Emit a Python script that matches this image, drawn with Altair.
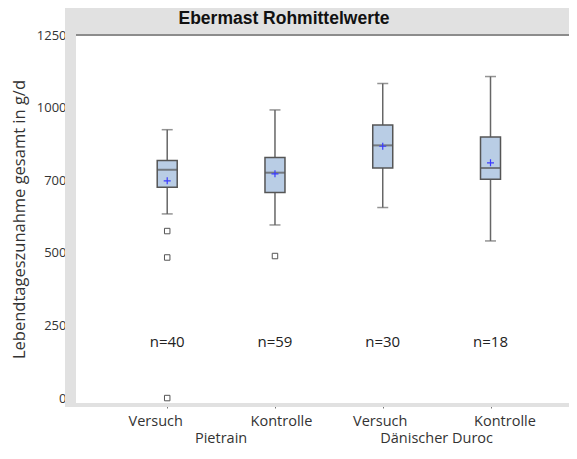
import altair as alt
import pandas as pd

# ---- data ----
groups = ["Pietrain", "Pietrain", "Dänischer Duroc", "Dänischer Duroc"]
treatments = ["Versuch", "Kontrolle", "Versuch", "Kontrolle"]
slot = [1, 2, 3, 4]
whisker_low = [634, 596, 656, 541]
q1 = [726, 708, 792, 753]
median = [786, 776, 870, 792]
q3 = [818, 828, 940, 899]
whisker_high = [924, 992, 1083, 1107]
means = [748, 772, 867, 810]
counts = [40, 59, 30, 18]
outlier_slot = [1, 1, 1, 2]
outlier_value = [575, 484, 0, 489]
y_ticks = [0, 250, 500, 750, 1000, 1250]
y_tick_labels = ["0", "250", "500", "700", "1000", "1250"]
title_text = "Ebermast Rohmittelwerte"
y_title = "Lebendtageszunahme gesamt in g/d"

box = pd.DataFrame({
    "slot": slot, "group": groups, "treatment": treatments,
    "lo": whisker_low, "q1": q1, "med": median, "q3": q3,
    "hi": whisker_high, "mean": means, "n": counts,
})
outl = pd.DataFrame({"slot": outlier_slot, "value": outlier_value})
grp = box.groupby("group", sort=False)["slot"].mean().reset_index()
one = pd.DataFrame({"t": [title_text]})

W, H = 493, 368
TOP, BOTTOM = 27, 43
FONT = "Open Sans"

# label shifts seen in the reference (labels are not exactly centred under ticks)
label_shift = [-12, 6, -3, 14]

x_label_expr = "[" + ",".join("'%s'" % t for t in treatments) + "][datum.value - 1]"
y_label_expr = ("[" + ",".join("'%s'" % t for t in y_tick_labels) + "][indexof(["
                + ",".join(str(v) for v in y_ticks) + "], datum.value)]")

x_scale = alt.Scale(domain=[0.2, 4.682], nice=False, zero=False)
y_scale = alt.Scale(domain=[-17, 1250], nice=False, zero=False)

x_axis = alt.Axis(values=slot, labelExpr=x_label_expr, grid=False, tickSize=5,
                  labelPadding=6, domainColor="#8c8c8c", domainWidth=2,
                  tickColor="#777", labelFont=FONT, labelFontSize=14.5,
                  labelColor="#333", title=None, labelAngle=0,
                  labelOffset={"condition": [
                      {"test": "datum.value == %d" % s, "value": d}
                      for s, d in zip(slot, label_shift)], "value": 0})
y_axis = alt.Axis(values=y_ticks, labelExpr=y_label_expr, grid=False, tickSize=6,
                  labelPadding=4, domainColor="#8c8c8c", domainWidth=2,
                  tickColor="#777", labelFont=FONT, labelFontSize=13,
                  labelColor="#333", title=y_title, titleFont=FONT,
                  titleFontSize=16.5, titleFontWeight="normal", titleColor="#333",
                  titleX=-57, titleY=H / 2, titleAngle=270,
                  titleBaseline="middle", titleAlign="center")

X = alt.X("slot:Q", scale=x_scale, axis=x_axis)

bg = alt.Chart(one).mark_rect(color="#e1e1e1").encode(
    x=alt.value(-11), x2=alt.value(W), y=alt.value(-TOP), y2=alt.value(H + 4))
plot_bg = alt.Chart(one).mark_rect(color="white").encode(
    x=alt.value(0), x2=alt.value(W), y=alt.value(0), y2=alt.value(H))
top_line = alt.Chart(one).mark_rule(color="#8c8c8c", strokeWidth=2).encode(
    x=alt.value(0), x2=alt.value(W), y=alt.value(0))

base = alt.Chart(box)
whisk = base.mark_rule(color="#666", strokeWidth=1.5).encode(
    x=X, y=alt.Y("lo:Q", scale=y_scale, axis=y_axis), y2="hi:Q")
cap_lo = base.mark_tick(orient="horizontal", size=11, thickness=1.5, color="#666").encode(
    x=X, y=alt.Y("lo:Q", scale=y_scale, axis=y_axis))
cap_hi = base.mark_tick(orient="horizontal", size=11, thickness=1.5, color="#666").encode(
    x=X, y=alt.Y("hi:Q", scale=y_scale, axis=y_axis))
boxes = base.mark_bar(size=20, fill="#b9cde5", stroke="#555", strokeWidth=1.5).encode(
    x=X, y=alt.Y("q1:Q", scale=y_scale, axis=y_axis), y2="q3:Q")
meds = base.mark_tick(orient="horizontal", size=20, thickness=2, color="#555").encode(
    x=X, y=alt.Y("med:Q", scale=y_scale, axis=y_axis))
mean_pts = base.mark_point(shape="M-1,0L1,0M0,-1L0,1", size=49, filled=False,
                           stroke="#3a3aff", strokeWidth=1.2, opacity=1).encode(
    x=X, y=alt.Y("mean:Q", scale=y_scale, axis=y_axis))
out_pts = alt.Chart(outl).mark_point(shape="square", size=30, filled=False,
                                     stroke="#555", strokeWidth=1, opacity=1).encode(
    x=X, y=alt.Y("value:Q", scale=y_scale, axis=y_axis))
n_text = base.transform_calculate(label="'n=' + datum.n").mark_text(
    font=FONT, fontSize=15, color="#222", baseline="middle", align="center").encode(
    x=X, y=alt.value(307), text="label:N")
grp_text = alt.Chart(grp).mark_text(
    font=FONT, fontSize=14.5, color="#333", baseline="middle", align="center").encode(
    x=X, y=alt.value(H + 36), text="group:N")
title = alt.Chart(one).mark_text(
    font="Liberation Sans", fontSize=17.5, fontWeight="bold", color="#111",
    baseline="alphabetic", align="center").encode(
    x=alt.value(208), y=alt.value(-11), text="t:N")

chart = alt.layer(
    bg, plot_bg, top_line, whisk, cap_lo, cap_hi, boxes, meds, mean_pts,
    out_pts, n_text, grp_text, title
).properties(
    width=W, height=H,
    autosize=alt.AutoSizeParams(type="none"),
    padding={"left": 68, "top": TOP, "right": 0, "bottom": BOTTOM},
).configure_view(stroke=None).configure(background="white")

chart.save("out.html", embed_options={"renderer": "svg", "actions": False})
